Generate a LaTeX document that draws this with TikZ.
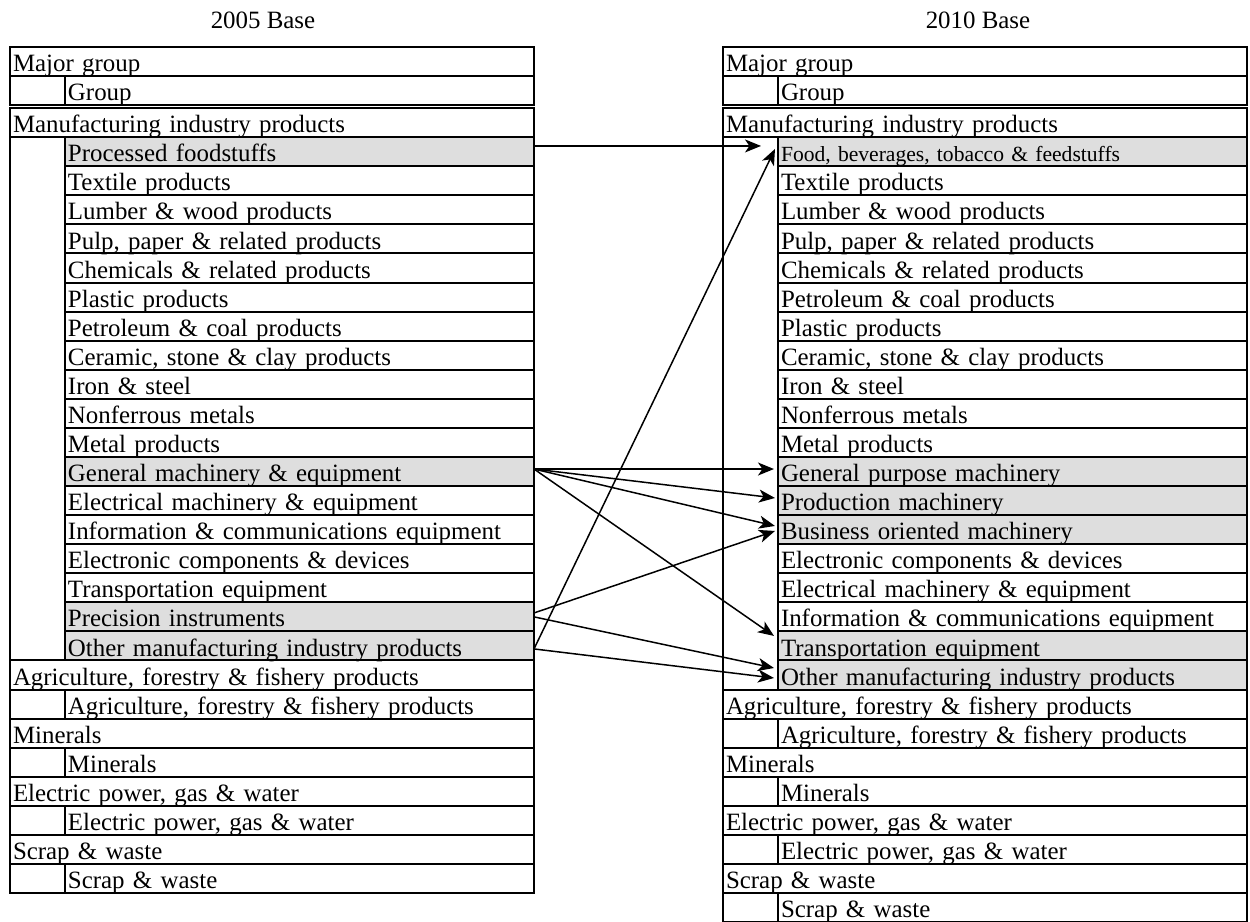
\documentclass[tikz,border=0pt]{standalone}
\usepackage{fontspec}
\setmainfont{Liberation Serif}
\usetikzlibrary{arrows.meta}
\definecolor{shade}{gray}{0.87}
\newcommand\mkrow[5]{\node[#2] (#1) at (#3,{-54.07-14.535*#4}) {#5};}
\begin{document}
\begin{tikzpicture}[x=1pt,y=1pt,
  cell/.style={draw, line width=1pt, anchor=north west, outer sep=0pt,
    inner xsep=1.5pt, inner ysep=0pt, align=left,
    text height=12.3pt, text depth=2.235pt,
    font=\fontsize{12.45}{14}\selectfont},
  rowm/.style={cell, text width=259pt},
  rowg/.style={cell, text width=231.5pt, xshift=27.5pt},
  rows/.style={rowg, fill=shade},
  frame/.style={line width=1pt},
  title/.style={anchor=base, font=\fontsize{12.45}{14}\selectfont},
  conn/.style={line width=0.75pt, -{Stealth[length=8pt,width=6.5pt,inset=2.2pt]}}
]
\useasboundingbox (0,0) rectangle (625,-461);

% titles
\node[title] (T1) at (131.5,-14) {2005 Base};
\node[title] (T2) at (489,-14) {2010 Base};

% ---------- left table (2005) ----------
\draw[frame] (5,-23.5) rectangle (267,-52.57);
\node[rowm] (LH0) at (5,-23.5) {Major group};
\node[rowg] (LH1) at (5,-38.035) {Group};
\draw[frame] (5,-54.07) rectangle (267,{-54.07-14.535*27});
\mkrow{L0}{rowm}{5}{0}{Manufacturing industry products}
\mkrow{L1}{rows}{5}{1}{Processed foodstuffs}
\mkrow{L2}{rowg}{5}{2}{Textile products}
\mkrow{L3}{rowg}{5}{3}{Lumber \& wood products}
\mkrow{L4}{rowg}{5}{4}{Pulp, paper \& related products}
\mkrow{L5}{rowg}{5}{5}{Chemicals \& related products}
\mkrow{L6}{rowg}{5}{6}{Plastic products}
\mkrow{L7}{rowg}{5}{7}{Petroleum \& coal products}
\mkrow{L8}{rowg}{5}{8}{Ceramic, stone \& clay products}
\mkrow{L9}{rowg}{5}{9}{Iron \& steel}
\mkrow{L10}{rowg}{5}{10}{Nonferrous metals}
\mkrow{L11}{rowg}{5}{11}{Metal products}
\mkrow{L12}{rows}{5}{12}{General machinery \& equipment}
\mkrow{L13}{rowg}{5}{13}{Electrical machinery \& equipment}
\mkrow{L14}{rowg}{5}{14}{Information \& communications equipment}
\mkrow{L15}{rowg}{5}{15}{Electronic components \& devices}
\mkrow{L16}{rowg}{5}{16}{Transportation equipment}
\mkrow{L17}{rows}{5}{17}{Precision instruments}
\mkrow{L18}{rows}{5}{18}{Other manufacturing industry products}
\mkrow{L19}{rowm}{5}{19}{Agriculture, forestry \& fishery products}
\mkrow{L20}{rowg}{5}{20}{Agriculture, forestry \& fishery products}
\mkrow{L21}{rowm}{5}{21}{Minerals}
\mkrow{L22}{rowg}{5}{22}{Minerals}
\mkrow{L23}{rowm}{5}{23}{Electric power, gas \& water}
\mkrow{L24}{rowg}{5}{24}{Electric power, gas \& water}
\mkrow{L25}{rowm}{5}{25}{Scrap \& waste}
\mkrow{L26}{rowg}{5}{26}{Scrap \& waste}

% ---------- right table (2010) ----------
\draw[frame] (361.5,-23.5) rectangle (623.5,-52.57);
\node[rowm] (RH0) at (361.5,-23.5) {Major group};
\node[rowg] (RH1) at (361.5,-38.035) {Group};
\draw[frame] (361.5,-54.07) rectangle (623.5,{-54.07-14.535*28});
\mkrow{R0}{rowm}{361.5}{0}{Manufacturing industry products}
\node[rows, font=\fontsize{10.8}{12}\selectfont] (R1) at (361.5,{-54.07-14.535*1}) {Food, beverages, tobacco \& feedstuffs};
\mkrow{R2}{rowg}{361.5}{2}{Textile products}
\mkrow{R3}{rowg}{361.5}{3}{Lumber \& wood products}
\mkrow{R4}{rowg}{361.5}{4}{Pulp, paper \& related products}
\mkrow{R5}{rowg}{361.5}{5}{Chemicals \& related products}
\mkrow{R6}{rowg}{361.5}{6}{Petroleum \& coal products}
\mkrow{R7}{rowg}{361.5}{7}{Plastic products}
\mkrow{R8}{rowg}{361.5}{8}{Ceramic, stone \& clay products}
\mkrow{R9}{rowg}{361.5}{9}{Iron \& steel}
\mkrow{R10}{rowg}{361.5}{10}{Nonferrous metals}
\mkrow{R11}{rowg}{361.5}{11}{Metal products}
\mkrow{R12}{rows}{361.5}{12}{General purpose machinery}
\mkrow{R13}{rows}{361.5}{13}{Production machinery}
\mkrow{R14}{rows}{361.5}{14}{Business oriented machinery}
\mkrow{R15}{rowg}{361.5}{15}{Electronic components \& devices}
\mkrow{R16}{rowg}{361.5}{16}{Electrical machinery \& equipment}
\mkrow{R17}{rowg}{361.5}{17}{Information \& communications equipment}
\mkrow{R18}{rows}{361.5}{18}{Transportation equipment}
\mkrow{R19}{rows}{361.5}{19}{Other manufacturing industry products}
\mkrow{R20}{rowm}{361.5}{20}{Agriculture, forestry \& fishery products}
\mkrow{R21}{rowg}{361.5}{21}{Agriculture, forestry \& fishery products}
\mkrow{R22}{rowm}{361.5}{22}{Minerals}
\mkrow{R23}{rowg}{361.5}{23}{Minerals}
\mkrow{R24}{rowm}{361.5}{24}{Electric power, gas \& water}
\mkrow{R25}{rowg}{361.5}{25}{Electric power, gas \& water}
\mkrow{R26}{rowm}{361.5}{26}{Scrap \& waste}
\mkrow{R27}{rowg}{361.5}{27}{Scrap \& waste}

% ---------- connectors ----------
\draw[conn] ([yshift=2.9pt]L1.east) -- ([xshift=-8.5pt,yshift=2.9pt]R1.west);
\draw[conn] ([yshift=-1.5pt]L18.east) -- ([xshift=-1.5pt,yshift=1.4pt]R1.west);
\draw[conn] ([yshift=1.25pt]L12.east) -- ([xshift=-2pt,yshift=1.25pt]R12.west);
\draw[conn] ([yshift=1.25pt]L12.east) -- ([xshift=-1.5pt,yshift=1.3pt]R13.west);
\draw[conn] ([yshift=1.25pt]L12.east) -- ([xshift=-1.5pt,yshift=1.85pt]R14.west);
\draw[conn] ([yshift=1.25pt]L12.east) -- ([xshift=-2pt,yshift=5pt]R18.west);
\draw[conn] ([yshift=1.95pt]L17.east) -- ([xshift=-1.5pt,yshift=-0.65pt]R14.west);
\draw[conn] ([yshift=0pt]L17.east) -- ([xshift=-2pt,yshift=3.5pt]R19.west);
\draw[conn] ([yshift=-1.5pt]L18.east) -- ([xshift=-2pt,yshift=-1.5pt]R19.west);
\end{tikzpicture}
\end{document}
